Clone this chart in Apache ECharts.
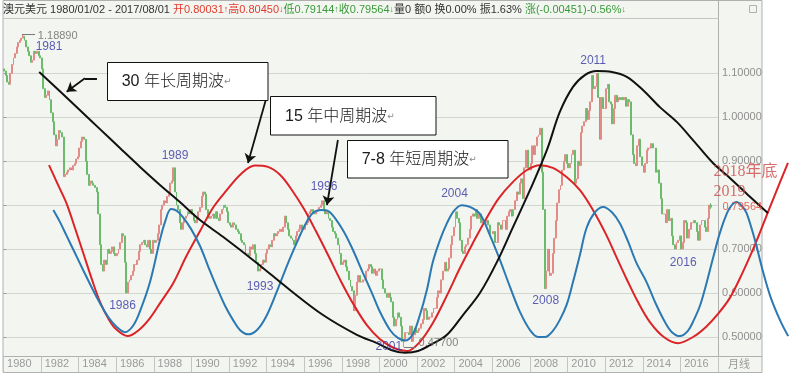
<!DOCTYPE html>
<html><head><meta charset="utf-8">
<script src="https://cdn.jsdelivr.net/npm/echarts@6/dist/echarts.min.js"></script>
<style>html,body{margin:0;padding:0;background:#fff}#c{width:789px;height:374px}</style>
</head><body><div id="c"></div>
<script>
// ---------------- data ----------------
const FIRST_OPEN = 1.110;
const CLOSES_1980S = [
1.105,1.095,1.080,1.075,1.100,1.120,1.135,1.145,1.160,1.170,1.175,1.180,
1.185,1.175,1.160,1.150,1.140,1.125,1.130,1.150,1.145,1.150,1.140,1.135,
1.110,1.065,1.045,1.050,1.060,1.040,1.010,0.990,0.960,0.935,0.950,0.970,
0.965,0.955,0.865,0.870,0.875,0.880,0.885,0.880,0.890,0.895,0.905,0.910,
0.930,0.945,0.955,0.950,0.900,0.870,0.845,0.855,0.850,0.845,0.840,0.830,
0.780,0.710,0.665,0.650,0.675,0.665,0.700,0.690,0.695,0.705,0.690,0.685,
0.690,0.700,0.715,0.735,0.730,0.670,0.600,0.625,0.630,0.640,0.650,0.665,
0.665,0.675,0.695,0.710,0.715,0.720,0.710,0.705,0.720,0.700,0.690,0.720,
0.715,0.720,0.735,0.755,0.790,0.800,0.810,0.805,0.820,0.825,0.850,0.855,
0.885,0.830,0.800,0.790,0.760,0.745,0.760,0.770,0.775,0.785,0.780,0.790];
const CLOSES_1990S = [
0.780,0.765,0.760,0.770,0.785,0.795,0.820,0.830,0.825,0.790,0.775,0.770,
0.775,0.780,0.770,0.785,0.770,0.765,0.780,0.790,0.800,0.795,0.785,0.760,
0.755,0.750,0.760,0.755,0.745,0.740,0.735,0.720,0.715,0.710,0.690,0.690,
0.685,0.705,0.700,0.710,0.690,0.670,0.650,0.655,0.665,0.675,0.670,0.690,
0.700,0.710,0.705,0.720,0.735,0.730,0.735,0.740,0.745,0.740,0.750,0.775,
0.760,0.745,0.730,0.725,0.720,0.710,0.730,0.740,0.745,0.755,0.745,0.745,
0.755,0.760,0.780,0.785,0.790,0.785,0.780,0.785,0.790,0.795,0.800,0.810,
0.790,0.780,0.785,0.770,0.765,0.750,0.740,0.735,0.725,0.710,0.690,0.665,
0.670,0.675,0.660,0.650,0.630,0.615,0.605,0.560,0.595,0.625,0.640,0.625,
0.625,0.630,0.630,0.650,0.655,0.665,0.660,0.645,0.655,0.640,0.650,0.655];
const CLOSES_2000S = [
0.655,0.630,0.610,0.600,0.590,0.600,0.590,0.580,0.545,0.525,0.540,0.555,
0.545,0.525,0.490,0.495,0.510,0.510,0.505,0.525,0.490,0.505,0.520,0.510,
0.515,0.520,0.530,0.540,0.565,0.560,0.540,0.545,0.545,0.555,0.565,0.565,
0.590,0.605,0.600,0.630,0.650,0.670,0.650,0.655,0.680,0.710,0.730,0.750,
0.785,0.770,0.760,0.720,0.695,0.690,0.705,0.710,0.725,0.745,0.775,0.780,
0.775,0.790,0.770,0.780,0.760,0.765,0.760,0.760,0.765,0.755,0.735,0.735,
0.740,0.715,0.715,0.760,0.755,0.745,0.765,0.765,0.745,0.775,0.785,0.790,
0.775,0.790,0.810,0.830,0.825,0.850,0.860,0.815,0.885,0.925,0.885,0.880,
0.895,0.935,0.915,0.935,0.955,0.960,0.975,0.875,0.790,0.610,0.650,0.700,
0.640,0.645,0.690,0.725,0.765,0.805,0.835,0.845,0.880,0.900,0.915,0.895];
const CLOSES_2010S = [
0.885,0.895,0.915,0.925,0.850,0.860,0.900,0.890,0.965,0.980,0.990,1.020,
0.995,1.015,1.035,1.095,1.065,1.070,1.100,1.045,0.950,1.045,1.020,1.020,
1.065,1.075,1.035,1.030,0.985,1.020,1.050,1.035,1.045,1.040,1.045,1.040,
1.045,1.025,1.040,1.035,0.960,0.915,0.895,0.890,0.935,0.950,0.910,0.890,
0.875,0.895,0.925,0.930,0.930,0.940,0.930,0.930,0.875,0.880,0.850,0.815,
0.780,0.780,0.760,0.790,0.765,0.770,0.730,0.710,0.700,0.715,0.720,0.730,
0.700,0.715,0.765,0.760,0.725,0.745,0.760,0.760,0.765,0.760,0.740,0.720,
0.755,0.765,0.765,0.750,0.740,0.770,0.80031,0.79564];
const HIGH_MARK = {month:'1981-01', price:1.1889};
const LOW_MARK = {month:'2001-04', price:0.4770};
const LAST_BAR = {open:0.80031, high:0.80450, low:0.79144, close:0.79564};

const FIRST_YEAR = 1980, LAST_YEAR = 2017;
const PRICE_TICKS = [0.5, 1.1, 0.1];   // min, max, step of the price scale

// cycle curves: [year, price]
const CYCLE_15Y_RED = [
[1982.43,0.891],[1982.91,0.846],[1983.37,0.803],[1983.81,0.748],[1984.25,0.691],[1984.72,0.630],[1985.14,0.580],[1985.57,0.543],[1985.99,0.518],[1986.61,0.502],[1987.21,0.516],[1987.80,0.543],[1988.38,0.580],[1989.04,0.623],[1989.71,0.682],[1990.46,0.741],[1991.15,0.794],[1991.88,0.834],[1992.64,0.871],[1993.38,0.890],[1994.07,0.887],[1994.71,0.869],[1995.35,0.834],[1995.99,0.791],[1996.62,0.741],[1997.26,0.687],[1997.95,0.627],[1998.64,0.573],[1999.33,0.527],[2000.03,0.495],[2000.77,0.475],[2001.46,0.468],[2002.15,0.489],[2002.84,0.532],[2003.57,0.593],[2004.28,0.657],[2004.97,0.714],[2005.66,0.768],[2006.35,0.816],[2007.10,0.853],[2007.84,0.880],[2008.53,0.891],[2009.22,0.885],[2009.95,0.864],[2010.66,0.834],[2011.35,0.789],[2012.04,0.734],[2012.62,0.680],[2013.14,0.632],[2013.74,0.580],[2014.38,0.534],[2015.12,0.500],[2015.87,0.486],[2016.67,0.500],[2017.36,0.523],[2017.99,0.552],[2018.63,0.589],[2019.27,0.643],[2019.85,0.698],[2020.39,0.755],[2021.02,0.823],[2021.72,0.896]];
const CYCLE_7Y_BLUE = [
[1982.66,0.789],[1983.01,0.762],[1983.37,0.730],[1983.81,0.691],[1984.25,0.652],[1984.72,0.611],[1985.14,0.577],[1985.57,0.546],[1986.03,0.523],[1986.47,0.511],[1986.89,0.525],[1987.27,0.559],[1987.80,0.625],[1988.33,0.721],[1988.60,0.762],[1988.92,0.791],[1989.23,0.787],[1989.55,0.773],[1989.98,0.746],[1990.46,0.707],[1990.88,0.662],[1991.34,0.614],[1991.79,0.571],[1992.21,0.539],[1992.58,0.516],[1993.02,0.506],[1993.49,0.516],[1993.97,0.546],[1994.53,0.602],[1995.08,0.662],[1995.60,0.714],[1996.04,0.755],[1996.46,0.782],[1996.93,0.789],[1997.37,0.784],[1998.06,0.743],[1998.59,0.698],[1999.12,0.646],[1999.60,0.600],[2000.03,0.557],[2000.56,0.516],[2000.98,0.498],[2001.36,0.492],[2001.78,0.507],[2002.15,0.550],[2002.52,0.607],[2002.84,0.671],[2003.22,0.721],[2003.59,0.759],[2003.96,0.787],[2004.37,0.800],[2004.81,0.796],[2005.34,0.780],[2005.87,0.732],[2006.41,0.675],[2006.94,0.614],[2007.47,0.557],[2008.00,0.516],[2008.43,0.500],[2008.80,0.500],[2009.22,0.514],[2009.59,0.539],[2009.95,0.573],[2010.29,0.625],[2010.66,0.687],[2011.01,0.748],[2011.46,0.784],[2011.90,0.796],[2012.36,0.784],[2012.78,0.759],[2013.21,0.718],[2013.67,0.668],[2014.20,0.625],[2014.70,0.575],[2015.18,0.534],[2015.55,0.511],[2015.97,0.502],[2016.40,0.514],[2016.72,0.539],[2017.04,0.571],[2017.36,0.618],[2017.75,0.682],[2018.10,0.737],[2018.46,0.780],[2018.69,0.798],[2018.99,0.807],[2019.27,0.798],[2019.52,0.782],[2019.96,0.721],[2020.41,0.646],[2020.81,0.589],[2021.29,0.539],[2021.73,0.502]];
const CYCLE_30Y_BLACK = [
[1981.91,1.103],[1983.01,1.059],[1984.08,1.016],[1985.14,0.973],[1986.20,0.930],[1987.27,0.887],[1988.33,0.846],[1989.39,0.807],[1990.46,0.766],[1991.68,0.728],[1993.49,0.668],[1995.24,0.607],[1997.00,0.550],[1998.80,0.505],[1999.87,0.486],[2000.66,0.470],[2001.36,0.464],[2002.05,0.468],[2002.79,0.484],[2003.59,0.505],[2004.44,0.550],[2005.34,0.600],[2006.25,0.671],[2007.10,0.750],[2008.00,0.834],[2008.90,0.925],[2009.59,1.012],[2010.29,1.069],[2010.92,1.096],[2011.56,1.105],[2012.36,1.103],[2013.15,1.092],[2014.01,1.062],[2014.91,1.023],[2015.82,0.989],[2016.67,0.948],[2017.73,0.896],[2018.63,0.862],[2019.70,0.819],[2020.65,0.782]];

// annotations (year, price anchors)
const YEAR_LABELS = ['1981','1989','1986','1993','1996','2001','2004','2008','2011','2016'];
const YEAR_LABEL_X = [1982.43,1989.13,1986.34,1993.65,1997.05,2000.50,2003.99,2008.84,2011.36,2016.15];
const YEAR_LABEL_Y = [1.1605,0.912,0.571,0.614,0.842,0.477,0.827,0.583,1.129,0.668];
const EXTREME_TEXT = ['1.18890','0.47700'];
const EXTREME_ANCHOR = [[1981.81,1.185],[2002.05,0.486]];
const EXTREME_LEADERS = [[[1980.99,1.1889],[1981.69,1.1889]],[[2001.30,0.477],[2001.94,0.477]]];
const FORECAST_TEXT = '2018年底\n2019';
const FORECAST_ANCHOR = [2017.73,0.853];
const PRICE_TAG_ANCHOR = [2018.21, 0.79564];
const ARROW_STUBS = [[[1984.98,1.0886],[1984.34,1.0886]]];
const ARROWS = [[[1984.34,1.0886],[1983.37,1.0581]],[[1993.97,1.0415],[1993.01,0.8959]],[[1997.79,0.9482],[1997.21,0.8003]]];
const BOX_TEXTS = ['30 年长周期波','15 年中周期波','7-8 年短周期波'];

// ---------------- build ----------------
const closes = CLOSES_1980S.concat(CLOSES_1990S, CLOSES_2000S, CLOSES_2010S);
const months = [];
for (let y = FIRST_YEAR; y <= LAST_YEAR; y++) for (let m = 1; m <= 12; m++) months.push(y + '-' + String(m).padStart(2,'0'));
const candles = closes.map((c,i) => {
  const o = i ? closes[i-1] : FIRST_OPEN;
  let lo = Math.min(o,c), hi = Math.max(o,c);
  if (months[i] === HIGH_MARK.month) hi = Math.max(hi, HIGH_MARK.price);
  if (months[i] === LOW_MARK.month) lo = Math.min(lo, LOW_MARK.price);
  return [o, c, lo, hi];
});
candles[candles.length-1] = [LAST_BAR.open, LAST_BAR.close, LAST_BAR.low, LAST_BAR.high];

// layout (pixels)
const L = 3.3, PR = 718, TOP = 18.5, BOT = 356.5, Y_HI = 73.3, Y_LO = 337, W = 789;
const ppu = (Y_LO - Y_HI) / (PRICE_TICKS[1] - PRICE_TICKS[0]);
const yMax = PRICE_TICKS[1] + (Y_HI - TOP) / ppu;
const yMin = PRICE_TICKS[0] - (BOT - Y_LO) / ppu;
const yearsSpan = LAST_YEAR + 1 - FIRST_YEAR;
const xMaxOverlay = FIRST_YEAR + (W - L) * yearsSpan / (PR - L);

const evenJan = (idx, v) => v.slice(5) === '01' && (+v.slice(0,4)) % 2 === 0;
const FONT = '"Liberation Sans","Noto Sans CJK SC",sans-serif';
const CJK = '"Liberation Sans","Noto Sans CJK SC",sans-serif';

const chart = echarts.init(document.getElementById('c'), null, {renderer:'canvas'});
const ovl = {xAxisIndex:2, yAxisIndex:2};
const boxes = [
  {x:107.5, y:62.5, w:160.5, h:38, tx:121.7},
  {x:270.5, y:96.5, w:165.5, h:38.5, tx:285},
  {x:347.5, y:140.5, w:160.5, h:37.5, tx:361.7}
];
const graphics = [
  {type:'rect', z:-100, silent:true, shape:{x:3,y:0.5,width:759,height:372}, style:{fill:'#f3f6f0', stroke:'#b0b0b0', lineWidth:1}},
  {type:'line', z:-90, silent:true, shape:{x1:718.5,y1:0.5,x2:718.5,y2:372.5}, style:{stroke:'#b0b0b0', lineWidth:1}},
  {type:'line', z:-90, silent:true, shape:{x1:3,y1:18.5,x2:718.5,y2:18.5}, style:{stroke:'#c4c4c4', lineWidth:1}},
  {type:'line', z:-90, silent:true, shape:{x1:3,y1:356.5,x2:762,y2:356.5}, style:{stroke:'#b0b0b0', lineWidth:1}},
  {type:'rect', z:-80, silent:true, shape:{x:749.5,y:5.5,width:7,height:7}, style:{fill:'none', stroke:'#b0b0b0', lineWidth:1}},
  {type:'text', silent:true, x:728, y:364, style:{text:'月线', font:'11px "Noto Sans CJK SC"', fill:'#9a9a9a', verticalAlign:'middle'}}
];
boxes.forEach((b,i) => {
  graphics.push({type:'rect', z:50, silent:true, shape:{x:b.x,y:b.y,width:b.w,height:b.h}, style:{fill:'#ffffff', stroke:'#111', lineWidth:1}});
  graphics.push({type:'text', z:51, silent:true, x:b.tx, y:b.y + b.h/2 + 0.5, style:{
    text:'{t|' + BOX_TEXTS[i] + '}{m|↵}', verticalAlign:'middle',
    rich:{t:{fontSize:16, fontFamily:CJK, fontWeight:300, fill:'#1a1a1a'}, m:{fontSize:9, fontFamily:'DejaVu Sans', fill:'#888'}}
  }});
});

chart.setOption({
  animation:false,
  backgroundColor:'#ffffff',
  title:{left:3, top:4, padding:0,
    text:'{a|澳元美元 1980/01/02 - 2017/08/01 }{r|开0.80031}{ra|↑}{r|高0.80450}{ra|↓}{g|低0.79144}{ga|↑}{g|收0.79564}{ga|↓}{a|量0 额0 换0.00% 振1.63% }{g|涨(-0.00451)-0.56%}{ga|↓}',
    textStyle:{fontSize:11, fontFamily:FONT, fontWeight:'normal', color:'#333', rich:{
      a:{fontSize:11, fontFamily:FONT, color:'#333'},
      r:{fontSize:11, fontFamily:FONT, color:'#e23b30'},
      ra:{fontSize:9, fontFamily:FONT, color:'#e23b30'},
      g:{fontSize:11, fontFamily:FONT, color:'#3a9a3a'},
      ga:{fontSize:9, fontFamily:FONT, color:'#3a9a3a'}
    }}},
  graphic:graphics,
  grid:[
    {left:L, top:TOP, width:PR-L, height:BOT-TOP, outerBoundsMode:'none', containLabel:false},
    {left:L, top:Y_HI, width:PR-L, height:Y_LO-Y_HI, outerBoundsMode:'none', containLabel:false},
    {left:L, top:TOP, width:W-L, height:BOT-TOP, outerBoundsMode:'none', containLabel:false}
  ],
  xAxis:[
    {type:'category', gridIndex:0, data:months, boundaryGap:true,
     axisLine:{show:false},
     axisTick:{show:true, interval:evenJan, length:16, lineStyle:{color:'#c4c4c4'}},
     axisLabel:{show:true, interval:evenJan, formatter:v => v.slice(0,4), align:'left', verticalAlign:'middle',
       margin:7, padding:[0,0,0,3], color:'#9a9a9a', fontSize:11, fontFamily:FONT},
     splitLine:{show:false}},
    {type:'value', gridIndex:1, min:0, max:1, show:false},
    {type:'value', gridIndex:2, min:FIRST_YEAR, max:xMaxOverlay, show:false}
  ],
  yAxis:[
    {type:'value', gridIndex:0, min:yMin, max:yMax, show:false, splitLine:{show:false}},
    {type:'value', gridIndex:1, position:'right', min:PRICE_TICKS[0], max:PRICE_TICKS[1], interval:PRICE_TICKS[2],
     axisLine:{show:false}, axisTick:{show:true, length:3, lineStyle:{color:'#9a9a9a'}},
     axisLabel:{formatter:v => Math.abs(v - PRICE_TAG_ANCHOR[1]) < 0.01 ? '' : v.toFixed(5), color:'#8e8e8e', fontSize:11, fontFamily:FONT, margin:4},
     splitLine:{show:true, lineStyle:{color:'#d3d6cf', width:1}}},
    {type:'value', gridIndex:2, min:yMin, max:yMax, show:false, splitLine:{show:false}}
  ],
  series:[
    {type:'candlestick', xAxisIndex:0, yAxisIndex:0, data:candles, barWidth:1.4,
     itemStyle:{color:'#e28b87', color0:'#6cbb6c', borderColor:'#e28b87', borderColor0:'#6cbb6c', borderWidth:1}, z:2},
    {type:'line', ...ovl, data:CYCLE_15Y_RED, smooth:0.35, showSymbol:false, clip:false, lineStyle:{color:'#dc2328', width:2}, z:5},
    {type:'line', ...ovl, data:CYCLE_7Y_BLUE, smooth:0.35, showSymbol:false, clip:false, lineStyle:{color:'#2b78b2', width:2}, z:5},
    {type:'line', ...ovl, data:CYCLE_30Y_BLACK, smooth:0.35, showSymbol:false, clip:false, lineStyle:{color:'#111111', width:2}, z:6},
    {type:'lines', coordinateSystem:'cartesian2d', ...ovl, z:7, symbol:['none','none'],
     lineStyle:{color:'#111', width:1.8, opacity:1, curveness:0}, data:ARROW_STUBS.map(c => ({coords:c}))},
    {type:'lines', coordinateSystem:'cartesian2d', ...ovl, z:7, symbol:['none','arrow'], symbolSize:9,
     lineStyle:{color:'#111', width:1.8, opacity:1, curveness:0}, data:ARROWS.map(c => ({coords:c}))},
    {type:'lines', coordinateSystem:'cartesian2d', ...ovl, z:7, symbol:['none','none'],
     lineStyle:{color:'#777', width:1, opacity:1, curveness:0}, data:EXTREME_LEADERS.map(c => ({coords:c}))},
    {type:'scatter', ...ovl, z:20, silent:true, symbolSize:1, itemStyle:{color:'rgba(0,0,0,0)'},
     data:YEAR_LABELS.map((t,i) => ({name:t, value:[YEAR_LABEL_X[i], YEAR_LABEL_Y[i]]})),
     label:{show:true, position:'inside', formatter:'{b}', color:'#3434a4', fontSize:12, fontFamily:FONT}},
    {type:'scatter', ...ovl, z:20, silent:true, symbolSize:1, itemStyle:{color:'rgba(0,0,0,0)'},
     data:EXTREME_TEXT.map((t,i) => ({name:t, value:EXTREME_ANCHOR[i]})),
     label:{show:true, position:'right', distance:0, formatter:'{b}', color:'#666', fontSize:11, fontFamily:FONT}},
    {type:'scatter', ...ovl, z:20, silent:true, symbolSize:1, itemStyle:{color:'rgba(0,0,0,0)'},
     data:[{name:PRICE_TAG_ANCHOR[1].toFixed(5), value:PRICE_TAG_ANCHOR}],
     label:{show:true, position:'right', distance:0, formatter:'{b}', color:'#e0453a', fontSize:11, fontFamily:FONT}},
    {type:'scatter', ...ovl, z:21, silent:true, symbolSize:1, itemStyle:{color:'rgba(0,0,0,0)'},
     data:[{name:FORECAST_TEXT, value:FORECAST_ANCHOR}],
     label:{show:true, position:'right', distance:0, formatter:'{b}', color:'#cc4b4b', fontSize:16, lineHeight:20,
       fontFamily:'"Liberation Serif","Noto Sans CJK SC",serif'}}
  ]
});
</script>
</body></html>
